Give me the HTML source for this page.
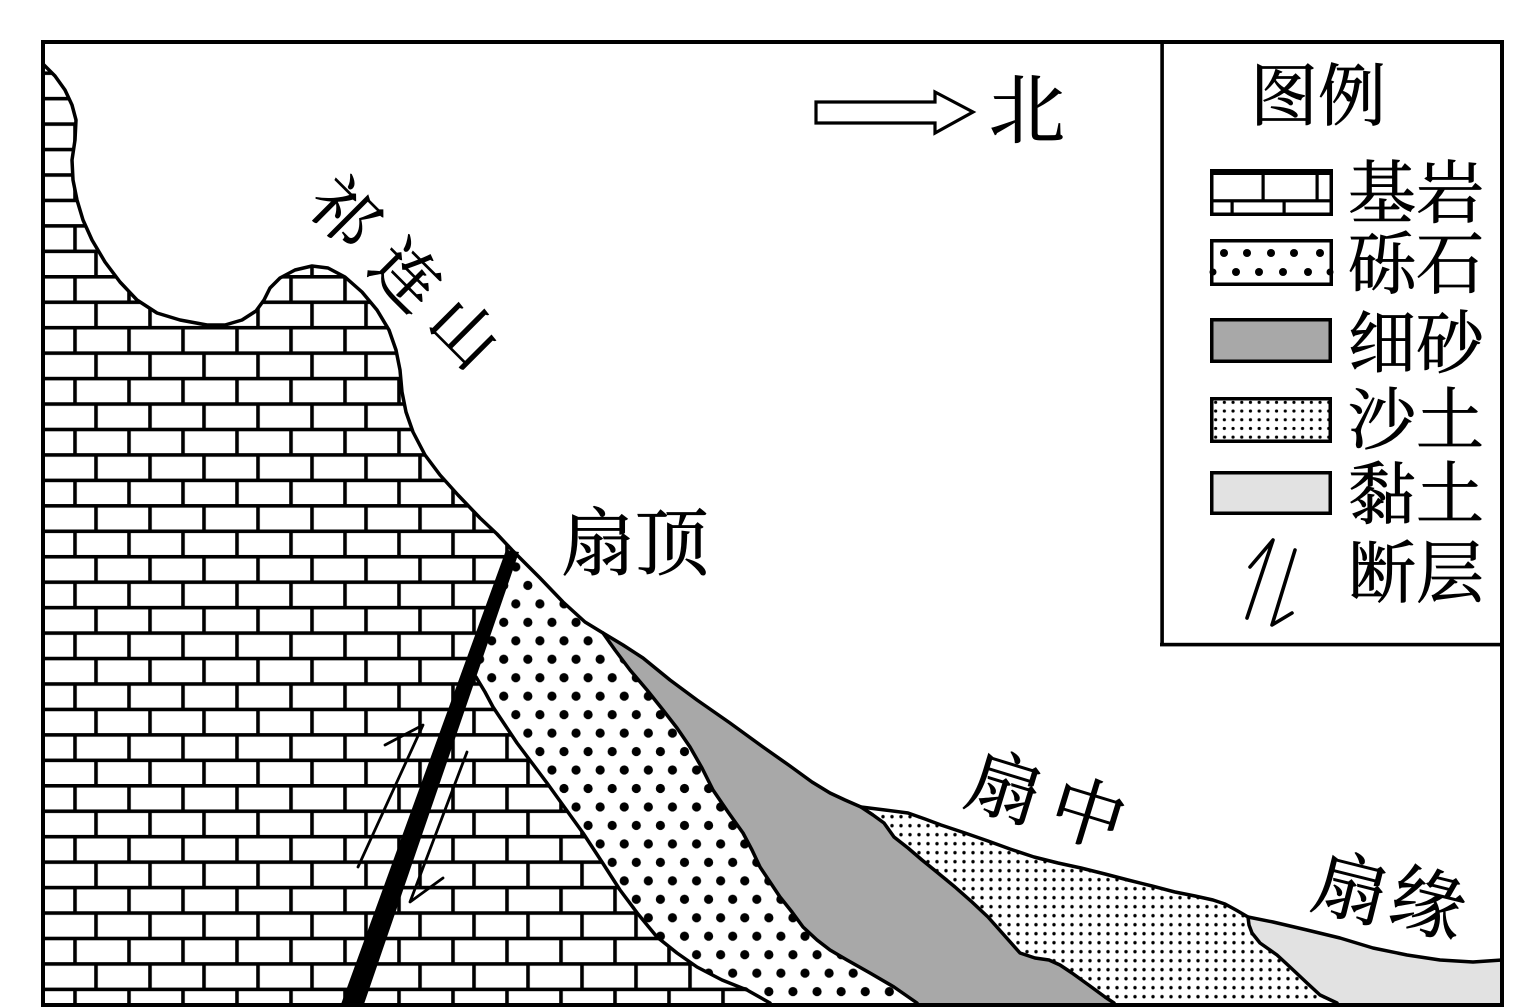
<!DOCTYPE html>
<html>
<head>
<meta charset="utf-8">
<style>
html,body{margin:0;padding:0;background:#fff;}
svg{display:block;}
text{font-family:"Liberation Serif","Noto Serif CJK SC","Noto Sans CJK SC",serif;fill:#000;font-weight:normal;stroke:#000;stroke-width:0.8px;}
</style>
</head>
<body>
<svg width="1535" height="1007" viewBox="0 0 1535 1007" xmlns="http://www.w3.org/2000/svg">
<defs>
  <pattern id="brick" patternUnits="userSpaceOnUse" x="73.2" y="376.8" width="108" height="50.9">
    <rect x="0" y="0" width="108" height="50.9" fill="#fff"/>
    <rect x="0" y="0" width="108" height="3.6" fill="#000"/>
    <rect x="0" y="25.45" width="108" height="3.6" fill="#000"/>
    <rect x="0" y="0" width="3.6" height="26" fill="#000"/>
    <rect x="54" y="0" width="3.6" height="26" fill="#000"/>
    <rect x="21" y="25.45" width="3.6" height="25.5" fill="#000"/>
    <rect x="75" y="25.45" width="3.6" height="25.5" fill="#000"/>
  </pattern>
  <pattern id="gravel" patternUnits="userSpaceOnUse" x="491.7" y="677.7" width="24.1" height="36.93">
    <rect x="0" y="0" width="24.1" height="36.93" fill="#fff"/>
    <circle cx="0" cy="0" r="4.6" fill="#000"/>
    <circle cx="24.1" cy="0" r="4.6" fill="#000"/>
    <circle cx="0" cy="36.93" r="4.6" fill="#000"/>
    <circle cx="24.1" cy="36.93" r="4.6" fill="#000"/>
    <circle cx="12.05" cy="18.47" r="4.6" fill="#000"/>
  </pattern>
  <pattern id="sand" patternUnits="userSpaceOnUse" x="905.5" y="821.2" width="9" height="9">
    <rect x="0" y="0" width="9" height="9" fill="#fff"/>
    <circle cx="4.5" cy="4.5" r="1.7" fill="#000"/>
  </pattern>
  <pattern id="sand2" patternUnits="userSpaceOnUse" x="1211.3" y="398" width="8.7" height="8.7">
    <rect x="0" y="0" width="8.7" height="8.7" fill="#fff"/>
    <circle cx="4.35" cy="4.35" r="1.6" fill="#000"/>
  </pattern>
</defs>

<rect x="0" y="0" width="1535" height="1007" fill="#fff"/>

<!-- Bedrock -->
<path fill="url(#brick)" d="M43,64 L55,76 65,90 72,105 76,120 75,140 72,160 73,180 77,200 83,220 92,240 105,262 120,282 137,300 157,313 180,320 207,325 225,325 242,320 256,311 264,300 270,288 280,278 295,270 312,266 328,268 345,277 362,292 377,310 389,330 396,350 400,370 402,392 406,412 413,432 425,455 440,475 458,495 480,518 497,534 512,550 L476,677 L485,692 493,707 505,725 517,743 532,763 547,783 565,808 583,833 602,862 620,890 638,914 657,937 677,953 697,967 722,980 747,990 770,1003 L770,1007 L43,1007 Z"/>

<!-- Gravel -->
<path fill="url(#gravel)" d="M512,550 L540,578 563,602 585,622 603,633 615,650 630,670 647,690 663,710 677,728 690,747 702,768 713,790 728,812 743,833 752,850 760,867 770,882 780,897 792,912 803,927 817,940 830,950 847,960 870,973 894,987 917,1003 L917,1007 L770,1007 L770,1003 747,990 722,980 697,967 677,953 657,937 638,914 620,890 602,862 583,833 565,808 547,783 532,763 517,743 505,725 493,707 485,692 476,677 Z"/>

<!-- Fine sand (gray) -->
<path fill="#a8a8a8" d="M603,633 L623,645 643,658 670,680 697,700 730,723 763,747 790,766 812,782 830,793 845,800 861,807 873,815 884,823 894,837 908,848 922,860 938,873 955,887 972,902 988,917 1004,935 1020,953 1035,958 1049,960 1060,965 1072,973 1090,986 1105,997 1114,1003 L1114,1007 L917,1007 L917,1003 894,987 870,973 847,960 830,950 817,940 803,927 792,912 780,897 770,882 760,867 752,850 743,833 728,812 713,790 702,768 690,747 677,728 663,710 647,690 630,670 615,650 Z"/>

<!-- Sandy soil -->
<path fill="url(#sand)" d="M861,807 L885,810 908,813 925,819 941,825 965,833 988,841 1010,849 1034,857 1058,863 1081,868 1105,874 1128,880 1152,886 1175,892 1195,896 1213,900 1225,904 1236,910 1248,917 1249,925 1252,933 1260,943 1277,955 1290,967 1307,983 1320,995 1337,1003 L1337,1007 L1114,1007 L1114,1003 1105,997 1090,986 1072,973 1060,965 1049,960 1035,958 1020,953 1004,935 988,917 972,902 955,887 938,873 922,860 908,848 894,837 884,823 873,815 Z"/>

<!-- Clay -->
<path fill="#e2e2e2" d="M1248,917 L1273,922 1307,930 1340,938 1373,948 1407,955 1440,960 1473,962 1502,960 L1502,1007 L1337,1007 L1337,1003 1320,995 1307,983 1290,967 1277,955 1260,943 1252,933 1249,925 Z"/>

<!-- Boundary strokes -->
<g fill="none" stroke="#000" stroke-width="3.5" stroke-linejoin="round" stroke-linecap="round">
  <path d="M43,64 L55,76 65,90 72,105 76,120 75,140 72,160 73,180 77,200 83,220 92,240 105,262 120,282 137,300 157,313 180,320 207,325 225,325 242,320 256,311 264,300 270,288 280,278 295,270 312,266 328,268 345,277 362,292 377,310 389,330 396,350 400,370 402,392 406,412 413,432 425,455 440,475 458,495 480,518 497,534 512,550 540,578 563,602 585,622 603,633 623,645 643,658 670,680 697,700 730,723 763,747 790,766 812,782 830,793 845,800 861,807 885,810 908,813 925,819 941,825 965,833 988,841 1010,849 1034,857 1058,863 1081,868 1105,874 1128,880 1152,886 1175,892 1195,896 1213,900 1225,904 1236,910 1248,917 1273,922 1307,930 1340,938 1373,948 1407,955 1440,960 1473,962 1502,960"/>
  <path d="M476,677 L485,692 493,707 505,725 517,743 532,763 547,783 565,808 583,833 602,862 620,890 638,914 657,937 677,953 697,967 722,980 747,990 770,1003"/>
  <path d="M603,633 L615,650 630,670 647,690 663,710 677,728 690,747 702,768 713,790 728,812 743,833 752,850 760,867 770,882 780,897 792,912 803,927 817,940 830,950 847,960 870,973 894,987 917,1003"/>
  <path d="M861,807 L873,815 884,823 894,837 908,848 922,860 938,873 955,887 972,902 988,917 1004,935 1020,953 1035,958 1049,960 1060,965 1072,973 1090,986 1105,997 1114,1003"/>
  <path d="M1248,917 L1249,925 1252,933 1260,943 1277,955 1290,967 1307,983 1320,995 1337,1003"/>
</g>

<!-- Fault -->
<polygon points="506,550 519,552 363,1007 340,1007" fill="#000"/>
<g fill="none" stroke="#000" stroke-width="2.8" stroke-linecap="round" stroke-linejoin="round">
  <polyline points="358,867 423,725 385,745"/>
  <polyline points="467,752 410,902 443,878"/>
</g>

<!-- North arrow -->
<polygon points="816,102 935,102 935,92 973,112 935,133 935,123 816,123" fill="#fff" stroke="#000" stroke-width="3.2" stroke-linejoin="miter"/>
<text x="989" y="137" font-size="76">北</text>

<!-- Labels -->
<text x="561" y="569" font-size="74">扇顶</text>
<text transform="translate(345,212) rotate(45)" text-anchor="middle" y="24" font-size="66">祁</text>
<text transform="translate(407,275) rotate(45)" text-anchor="middle" y="24" font-size="66">连</text>
<text transform="translate(465,332) rotate(45)" text-anchor="middle" y="24" font-size="66">山</text>
<text transform="translate(1005,787) rotate(17)" text-anchor="middle" y="27" font-size="74">扇</text>
<text transform="translate(1088,813) rotate(17)" text-anchor="middle" y="27" font-size="74">中</text>
<text transform="translate(1351,888) rotate(14)" text-anchor="middle" y="27" font-size="74">扇</text>
<text transform="translate(1428,903) rotate(14)" text-anchor="middle" y="27" font-size="74">缘</text>

<!-- Legend -->
<text x="1318" y="120" font-size="68" text-anchor="middle">图例</text>

<!-- 基岩 swatch -->
<rect x="1211.75" y="170.75" width="119.5" height="43.5" fill="#fff" stroke="#000" stroke-width="3.5"/>
<rect x="1210" y="169" width="123" height="6" fill="#000"/>
<rect x="1210" y="199.2" width="123" height="3.2" fill="#000"/>
<rect x="1261.5" y="172" width="3.2" height="28" fill="#000"/>
<rect x="1315.5" y="172" width="3.2" height="28" fill="#000"/>
<rect x="1230.5" y="200" width="3.2" height="15" fill="#000"/>
<rect x="1282.5" y="200" width="3.2" height="15" fill="#000"/>
<text x="1348" y="217" font-size="68">基岩</text>

<!-- 砾石 swatch -->
<rect x="1211.75" y="240.75" width="119.5" height="43.5" fill="#fff" stroke="#000" stroke-width="3.5"/>
<g fill="#000">
  <circle cx="1224" cy="253" r="4"/><circle cx="1247" cy="253" r="4"/><circle cx="1271" cy="253" r="4"/><circle cx="1294" cy="253" r="4"/><circle cx="1320" cy="253" r="4"/>
  <circle cx="1213" cy="272" r="3.5"/><circle cx="1236" cy="272" r="4"/><circle cx="1259" cy="272" r="4"/><circle cx="1283" cy="272" r="4"/><circle cx="1308" cy="272" r="4"/><circle cx="1330" cy="272" r="3.5"/>
</g>
<text x="1348" y="288" font-size="68">砾石</text>

<!-- 细砂 swatch -->
<rect x="1211.75" y="319.75" width="118.5" height="41.5" fill="#a8a8a8" stroke="#000" stroke-width="3.5"/>
<text x="1348" y="367" font-size="68">细砂</text>

<!-- 沙土 swatch -->
<rect x="1211.75" y="398.75" width="118.5" height="42.5" fill="url(#sand2)" stroke="#000" stroke-width="3.5"/>
<text x="1348" y="444" font-size="68">沙土</text>

<!-- 黏土 swatch -->
<rect x="1211.75" y="472.75" width="118.5" height="40.5" fill="#e2e2e2" stroke="#000" stroke-width="3.5"/>
<text x="1348" y="518" font-size="68">黏土</text>

<!-- 断层 symbol -->
<g fill="none" stroke="#000" stroke-width="3.6" stroke-linecap="round" stroke-linejoin="round">
  <polyline points="1247,618 1273,540 1250,567"/>
  <polyline points="1295,550 1272,625 1292,613"/>
</g>
<text x="1348" y="597" font-size="68">断层</text>

<!-- Legend box lines -->
<rect x="1160.3" y="42" width="3.6" height="604" fill="#000"/>
<rect x="1160" y="642.8" width="344" height="3.6" fill="#000"/>

<!-- Outer frame -->
<rect x="41" y="40" width="1463" height="4" fill="#000"/>
<rect x="41" y="40" width="4" height="967" fill="#000"/>
<rect x="1500" y="40" width="4" height="967" fill="#000"/>
<rect x="41" y="1003" width="1463" height="4" fill="#000"/>
</svg>
</body>
</html>
